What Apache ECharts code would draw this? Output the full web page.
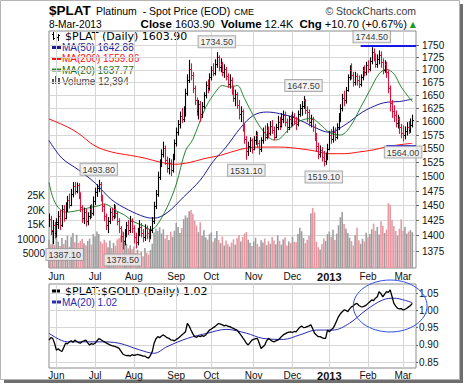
<!DOCTYPE html>
<html><head><meta charset="utf-8">
<script src="https://cdn.jsdelivr.net/npm/echarts@6/dist/echarts.min.js"></script>
<style>html,body{margin:0;padding:0;background:#fff}#c{width:464px;height:387px}</style>
</head><body><div id="c"></div>
<script>
// ---------------- DATA ----------------
const holidays = ['2012-05-28','2012-07-04','2012-09-03','2012-11-22','2012-12-25','2013-01-01','2013-01-21','2013-02-18'];
const monthLabels = ['Jun','Jul','Aug','Sep','Oct','Nov','Dec','2013','Feb','Mar'];
const priceTicks = [1375,1400,1425,1450,1475,1500,1525,1550,1575,1600,1625,1650,1675,1700,1725,1750];
const volTicks = [5000,10000,15000,20000,25000];
const volTickLabels = ['5000','10000','15K','20K','25K'];
const ratioTicks = [0.85,0.90,0.95,1.00,1.05];

const opens = [
1422,1428,1408,1418,1405,1420,1432,1418,1445,1430,
1446,1460,1452,1470,1484,1476,1486,1470,1448,1430,
1440,1424,1432,1445,1437,1458,1474,1480,1488,1465,
1450,1432,1418,1425,1440,1432,1445,1438,1425,1412,
1400,1392,1405,1418,1410,1425,1412,1398,1390,1406,
1415,1405,1398,1412,1404,1400,1410,1425,1450,1470,
1500,1524,1540,1552,1530,1516,1525,1512,1535,1560,
1580,1595,1610,1604,1615,1655,1680,1702,1690,1664,
1640,1620,1634,1615,1630,1650,1670,1664,1685,1700,
1694,1712,1725,1705,1712,1695,1702,1688,1672,1680,
1660,1645,1652,1632,1615,1620,1590,1568,1545,1555,
1565,1550,1565,1575,1560,1550,1565,1580,1572,1585,
1578,1592,1585,1572,1590,1600,1592,1605,1612,1600,
1590,1605,1598,1610,1602,1595,1615,1625,1630,1640,
1622,1618,1600,1605,1590,1575,1555,1540,1548,1535,
1528,1536,1550,1575,1568,1580,1572,1590,1608,1625,
1645,1640,1660,1685,1700,1690,1675,1688,1680,1672,
1685,1700,1695,1710,1702,1718,1735,1728,1712,1722,
1730,1715,1700,1712,1695,1665,1635,1620,1612,1598,
1605,1590,1578,1575,1582,1590,1584,1593.2];
const highs = [
1436,1432,1425,1422,1428,1440,1442,1450,1450,1455,
1466,1470,1478,1490,1490,1489,1488,1472,1450,1446,
1444,1438,1450,1452,1465,1480,1486,1493.8,1490,1468,
1452,1436,1430,1445,1446,1452,1450,1440,1428,1415,
1405,1410,1422,1425,1432,1428,1416,1404,1412,1425,
1420,1410,1418,1416,1410,1415,1430,1456,1476,1508,
1530,1548,1562,1555,1535,1532,1530,1540,1566,1588,
1602,1618,1625,1628,1662,1690,1719,1712,1695,1668,
1645,1640,1638,1636,1655,1676,1680,1692,1706,1712,
1720,1734.5,1728,1722,1715,1710,1705,1692,1690,1684,
1668,1660,1655,1640,1628,1622,1595,1572,1562,1570,
1568,1572,1582,1580,1565,1570,1588,1592,1596,1590,
1600,1602,1590,1595,1610,1608,1615,1620,1618,1605,
1610,1612,1618,1615,1608,1620,1632,1638,1647.5,1642,
1628,1622,1612,1608,1595,1578,1560,1555,1552,1545,
1542,1558,1582,1585,1590,1588,1596,1615,1632,1652,
1658,1665,1690,1708,1712,1695,1695,1692,1688,1690,
1705,1708,1715,1718,1724,1744.5,1742,1732,1730,1738,
1736,1722,1718,1715,1698,1668,1640,1630,1620,1612,
1608,1595,1592,1590,1598,1600,1605,1612];
const lows = [
1415,1402,1387.1,1396,1398,1412,1410,1415,1424,1428,
1440,1446,1450,1465,1470,1472,1462,1440,1422,1420,
1416,1418,1428,1430,1434,1452,1466,1474,1458,1440,
1425,1410,1405,1420,1425,1428,1430,1418,1405,1390,
1378.5,1385,1398,1402,1405,1405,1388,1380,1385,1400,
1398,1390,1392,1395,1390,1395,1405,1420,1445,1466,
1495,1518,1535,1522,1508,1505,1502,1508,1530,1555,
1575,1588,1598,1600,1610,1650,1675,1680,1655,1632,
1612,1605,1600,1608,1625,1645,1655,1660,1680,1688,
1690,1705,1698,1696,1688,1685,1680,1665,1664,1652,
1638,1630,1625,1605,1600,1582,1560,1531.1,1538,1545,
1542,1548,1558,1552,1540,1545,1560,1565,1568,1570,
1575,1578,1566,1570,1585,1585,1590,1598,1592,1580,
1585,1590,1592,1595,1585,1592,1610,1612,1625,1615,
1600,1592,1590,1582,1565,1545,1532,1535,1528,1519.1,
1522,1530,1548,1560,1562,1565,1568,1585,1600,1620,
1630,1635,1658,1680,1682,1668,1670,1670,1665,1668,
1680,1688,1690,1695,1698,1712,1718,1705,1705,1712,
1705,1692,1695,1685,1655,1620,1608,1600,1590,1588,
1578,1570,1564,1568,1575,1578,1580,1590];
const closes = [
1428,1410,1418,1405,1422,1432,1418,1445,1430,1446,
1460,1452,1470,1484,1476,1486,1470,1448,1430,1440,
1424,1432,1445,1437,1458,1474,1480,1488,1465,1450,
1432,1418,1425,1440,1432,1445,1438,1425,1412,1400,
1392,1405,1418,1410,1425,1412,1398,1390,1406,1415,
1405,1398,1412,1404,1400,1410,1425,1450,1470,1500,
1524,1540,1552,1530,1516,1525,1512,1535,1560,1580,
1595,1610,1604,1615,1655,1680,1702,1690,1664,1640,
1620,1634,1615,1630,1650,1670,1664,1685,1700,1694,
1712,1725,1705,1712,1695,1702,1688,1672,1680,1660,
1645,1652,1632,1615,1620,1590,1568,1545,1555,1565,
1550,1565,1575,1560,1550,1565,1580,1572,1585,1578,
1592,1585,1572,1590,1600,1592,1605,1612,1600,1590,
1605,1598,1610,1602,1595,1615,1625,1630,1640,1622,
1618,1600,1605,1590,1575,1555,1540,1548,1535,1528,
1536,1550,1575,1568,1580,1572,1590,1608,1625,1645,
1640,1660,1685,1700,1690,1675,1688,1680,1672,1685,
1700,1695,1710,1702,1718,1735,1728,1712,1722,1730,
1715,1700,1712,1695,1665,1635,1620,1612,1598,1605,
1590,1578,1575,1582,1590,1584,1593.2,1603.9];
const volumes = [
9800,8200,12500,7900,13200,9100,7600,10400,8300,9700,11200,7400,10800,12100,8900,11500,8700,9400,10100,8600,
7900,9300,10200,8100,11700,10900,12600,11800,9200,8500,9800,8800,7200,9500,6900,8700,7700,9900,10300,11100,
12900,9600,8400,6800,7900,6500,7400,5200,6300,4800,5600,4100,6900,5300,4600,6200,8400,12300,13600,12800,
14100,11900,13400,10200,11500,9700,12600,10800,12900,15600,14200,12100,13800,16900,18200,17400,19600,20100,18800,16300,
14700,12400,15800,11200,13100,10600,9800,11700,12300,9100,10400,12800,9700,8600,10900,7800,9500,8200,7400,8800,
9900,8100,10300,11400,9200,10700,11900,12400,9800,8700,7600,9100,10500,8300,7400,9600,8800,10200,7900,9300,
8400,10700,9500,8200,11300,9400,8100,9900,10600,7800,9200,8600,10800,9100,8900,11800,13900,12700,10400,8600,
9800,11200,18900,20800,19300,9100,7200,6400,8300,10200,9400,11700,12600,10800,13200,9700,11900,14800,17600,19400,
15200,13700,12100,10500,9300,7800,11400,13900,9600,8400,10100,9200,12200,10600,11800,13400,15300,12900,14200,11600,
16200,14600,12100,13300,22400,21900,16700,14500,12800,11200,13600,16800,12900,14200,11900,12600,13100,12394];

const ma20 = [[0,1490],[2,1465],[5,1447],[9,1439],[16,1442],[21,1446],[27,1450],[30,1453],[36,1442],[41,1434],[46,1423],[52,1415],[55,1410],[58,1415],[64,1447],[69,1487],[74,1546],[78,1567],[85,1627],[91,1660],[94,1669],[98,1666],[102,1669],[106,1644],[111,1610],[116,1583],[122,1566],[125,1568],[131,1589],[136,1601],[142,1606],[147,1595],[152,1580],[158,1575],[163,1589],[169,1627],[174,1660],[179,1692],[183,1701],[187,1692],[191,1666],[197,1637.77]];
const ma50 = [[0,1565],[7,1533],[16,1512],[25,1489],[34,1460],[43,1443],[52,1431],[57,1429],[64,1438],[73,1465],[82,1494],[89,1527],[96,1553],[104,1589],[111,1612],[118,1618],[125,1615],[134,1606],[143,1591],[152,1580],[161,1595],[170,1618],[179,1633],[184,1637],[190,1638],[197,1642.88]];
const ma200 = [[0,1605],[10,1590],[16,1578],[25,1555],[34,1544],[44,1538],[52,1533],[60,1526],[68,1522],[76,1525],[84,1532],[93,1538],[104,1549],[114,1553],[125,1553],[136,1550],[144,1546],[152,1541],[160,1541],[168,1544],[176,1548],[184,1554],[192,1558],[197,1559.86]];

const ratio = [
.914,.921,.919,.905,.885,.889,.884,.881,.893,.905,.903,.909,.912,.908,.914,.910,.907,.905,.910,.912,
.914,.906,.900,.904,.902,.905,.912,.918,.916,.912,.909,.906,.903,.900,.898,.897,.895,.893,.890,.882,
.874,.871,.869,.870,.868,.872,.870,.871,.873,.871,.870,.868,.868,.864,.862,.870,.881,.905,.918,.924,
.921,.926,.929,.925,.921,.919,.915,.914,.912,.916,.919,.924,.929,.933,.938,.962,.955,.943,.932,.924,
.922,.926,.924,.927,.925,.929,.936,.943,.946,.950,.953,.958,.962,.960,.958,.955,.957,.954,.953,.950,
.948,.945,.943,.936,.929,.921,.914,.905,.900,.907,.914,.916,.918,.919,.905,.890,.895,.900,.912,.919,
.915,.911,.909,.912,.914,.918,.924,.929,.932,.935,.937,.938,.936,.939,.938,.945,.951,.955,.950,.951,
.953,.955,.958,.947,.934,.929,.924,.924,.921,.919,.919,.943,.938,.944,.948,.958,.970,.982,.990,.996,
1.001,1.000,.996,1.004,1.010,1.013,1.018,1.020,1.014,1.011,1.010,1.012,1.015,1.020,1.025,1.030,1.028,1.035,1.039,1.054,
1.048,1.039,1.047,1.054,1.052,1.059,1.040,1.020,1.012,1.006,1.004,1.005,1.001,1.003,1.006,1.010,1.014,1.020];
const ratioMa20 = [[0,.934],[10,.909],[28,.909],[38,.905],[49,.886],[57,.876],[64,.895],[75,.919],[86,.934],[96,.945],[107,.934],[116,.919],[127,.916],[136,.929],[145,.943],[154,.943],[163,.963],[172,1.001],[181,1.030],[187,1.035],[197,1.022]];

const highMarks = [[27,1493.8],[91,1734.5],[138,1647.5],[175,1744.5]];
const lowMarks = [[2,1387.1],[40,1378.5],[107,1531.1],[149,1519.1],[192,1564]];
const trendLines = [[169,199,1748],[183,199,1555]];

// ---------------- BUILD ----------------
const dates = [];
(function(){
  let t = Date.UTC(2012,4,25); const end = Date.UTC(2013,2,8);
  while (t <= end) { const d = new Date(t); const wd = d.getUTCDay(); const s = d.toISOString().slice(0,10);
    if (wd !== 0 && wd !== 6 && holidays.indexOf(s) < 0) dates.push(s); t += 86400000; }
})();
const categories = dates.concat(['pad-1','pad-2']);
const monthStart = {};
(function(){ let k = 0; for (let i = 1; i < dates.length; i++) if (dates[i].slice(5,7) !== dates[i-1].slice(5,7)) monthStart[i] = monthLabels[k++]; })();

const L = Math.log10;
const FONT = 'Liberation Sans, Arial, sans-serif';
const DJ = 'DejaVu Sans, Verdana, sans-serif';
const UP = '#000000', DOWN = '#dc143c';
const n = closes.length;
const isUp = closes.map((c,i) => i === 0 ? c >= opens[0] : c >= closes[i-1]);
const last = closes[n-1], prev = closes[n-2];
const chg = last - prev, pct = chg/prev*100;
const grid0 = {left:49, right:48, top:31, height:237};
const grid1 = {left:49, right:48, top:284, height:84};
const gridCol = '#d6d6d6';
const boxLabel = {show:true, distance:5, formatter:p=>p.value[2].toFixed(2), fontSize:9, fontFamily:FONT, color:'#000',
  backgroundColor:'#f3f3f3', borderColor:'#9a9a9a', borderWidth:1, padding:[1,2,0,2], lineHeight:10};

function xAxisFor(gi, margin){
  return {type:'category', gridIndex:gi, data:categories, boundaryGap:false,
    axisLine:{show:false}, axisTick:{show:false},
    axisLabel:{interval:(i)=> monthStart[i] !== undefined,
      formatter:(v,i)=> monthStart[i] === '2013' ? '{b|2013}' : (monthStart[i] || ''),
      margin:margin, fontSize:10, fontFamily:FONT, color:'#111',
      rich:{b:{fontWeight:'bold', fontSize:11, fontFamily:FONT, color:'#111'}}},
    splitLine:{show:true, interval:(i)=> monthStart[i] !== undefined, lineStyle:{color:gridCol, width:1}}};
}

const option = {
  animation:false,
  backgroundColor:'#ffffff',
  grid:[
    Object.assign({show:true, borderColor:'#8a8a8a', borderWidth:1, backgroundColor:'#fff', outerBoundsMode:'none', containLabel:false}, grid0),
    Object.assign({show:true, borderColor:'#8a8a8a', borderWidth:1, backgroundColor:'#fff', outerBoundsMode:'none', containLabel:false}, grid1)
  ],
  xAxis:[xAxisFor(0,3), xAxisFor(1,2)],
  yAxis:[
    {type:'value', gridIndex:0, position:'right', min:L(1348), max:L(1779), scale:true,
      axisLine:{show:false},
      axisTick:{show:true, inside:false, length:3, customValues:priceTicks.map(L), lineStyle:{color:'#666'}},
      axisLabel:{customValues:priceTicks.map(L), formatter:v=>String(Math.round(Math.pow(10,v))), margin:6, fontSize:10, fontFamily:FONT, color:'#111'},
      splitLine:{show:true, lineStyle:{color:gridCol, width:1}}},
    {type:'value', gridIndex:0, position:'left', min:0, max:82000,
      axisLine:{show:false}, axisTick:{show:false},
      axisLabel:{customValues:volTicks, formatter:v=>volTickLabels[volTicks.indexOf(v)] || '', margin:4, fontSize:10, fontFamily:FONT, color:'#111'},
      splitLine:{show:false}},
    {type:'value', gridIndex:1, position:'right', min:0.8335, max:1.076,
      axisLine:{show:false},
      axisTick:{show:true, length:2, customValues:ratioTicks, lineStyle:{color:'#666'}},
      axisLabel:{customValues:ratioTicks, formatter:v=>v.toFixed(2), margin:3, fontSize:10, fontFamily:FONT, color:'#111'},
      splitLine:{show:true, lineStyle:{color:gridCol, width:1}}}
  ],
  series:[
    {type:'bar', name:'Volume', xAxisIndex:0, yAxisIndex:1, barWidth:1.6, silent:true, z:1,
      data:volumes.map((v,i)=>({value:v, itemStyle:{color:isUp[i] ? '#9e9e9e' : '#e699a3'}}))},
    {type:'line', name:'MA200', xAxisIndex:0, yAxisIndex:0, data:ma200.map(p=>[p[0], L(p[1])]), smooth:0.35, showSymbol:false, silent:true, z:2,
      lineStyle:{color:'#ff1010', width:1}},
    {type:'line', name:'MA50', xAxisIndex:0, yAxisIndex:0, data:ma50.map(p=>[p[0], L(p[1])]), smooth:0.35, showSymbol:false, silent:true, z:2,
      lineStyle:{color:'#1c1c9c', width:1}},
    {type:'line', name:'MA20', xAxisIndex:0, yAxisIndex:0, data:ma20.map(p=>[p[0], L(p[1])]), smooth:0.35, showSymbol:false, silent:true, z:2,
      lineStyle:{color:'#24882c', width:1},
      markLine:{symbol:'none', silent:true, label:{show:false}, lineStyle:{color:'#1515e6', width:2, type:'solid'},
        data:trendLines.map(t=>[{coord:[t[0], L(t[2])]}, {coord:[t[1], L(t[2])]}])}},
    {type:'custom', name:'PLAT', xAxisIndex:0, yAxisIndex:0, z:3, silent:true, clip:true,
      dimensions:['i','o','h','l','c','up'], encode:{x:0, y:[1,2,3,4]},
      data:closes.map((c,i)=>[i, L(opens[i]), L(highs[i]), L(lows[i]), L(c), isUp[i] ? 1 : 0]),
      renderItem:(params, api)=>{
        const i = api.value(0);
        const pO = api.coord([i, api.value(1)]);
        const pH = api.coord([i, api.value(2)]);
        const pL = api.coord([i, api.value(3)]);
        const pC = api.coord([i, api.value(4)]);
        const col = api.value(5) ? UP : DOWN;
        const x = Math.round(pO[0]) + 0.5;
        const yo = Math.round(pO[1]) + 0.5, yc = Math.round(pC[1]) + 0.5;
        return {type:'group', children:[
          {type:'line', shape:{x1:x, y1:pH[1]-0.5, x2:x, y2:pL[1]+0.5}, style:{stroke:col, lineWidth:1.1}},
          {type:'line', shape:{x1:x-1.5, y1:yo, x2:x, y2:yo}, style:{stroke:col, lineWidth:1}},
          {type:'line', shape:{x1:x, y1:yc, x2:x+1.5, y2:yc}, style:{stroke:col, lineWidth:1}}
        ]};
      }},
    {type:'scatter', name:'highs', xAxisIndex:0, yAxisIndex:0, symbolSize:1, itemStyle:{color:'rgba(0,0,0,0)'}, silent:true, z:6,
      data:highMarks.map(m=>[m[0], L(m[1]), m[1]]),
      label:Object.assign({position:'top'}, boxLabel)},
    {type:'scatter', name:'lows', xAxisIndex:0, yAxisIndex:0, symbolSize:1, itemStyle:{color:'rgba(0,0,0,0)'}, silent:true, z:6,
      // the first low sits on the volume-axis labels; nudge its box right so "5000" stays readable
      data:lowMarks.map((m,k)=> k === 0 ? {value:[m[0], L(m[1]), m[1]], label:{offset:[12,0]}} : [m[0], L(m[1]), m[1]]),
      label:Object.assign({position:'bottom'}, boxLabel)},
    {type:'line', name:'ratioMA', xAxisIndex:1, yAxisIndex:2, data:ratioMa20, smooth:0.35, showSymbol:false, silent:true, z:2,
      lineStyle:{color:'#2a2ab4', width:1}},
    {type:'line', name:'ratio', xAxisIndex:1, yAxisIndex:2, data:ratio.map((v,i)=>[i,v]), showSymbol:false, silent:true, z:3,
      lineStyle:{color:'#000', width:1.3}}
  ],
  graphic:[
    {type:'rect', shape:{x:0.5, y:0.5, width:459, height:379}, style:{fill:'none', stroke:'#b4b4b4', lineWidth:1}, silent:true},
    {type:'rect', shape:{x:460, y:4, width:3, height:379}, style:{fill:'#6e6e6e'}, silent:true},
    {type:'rect', shape:{x:4, y:380, width:459, height:3}, style:{fill:'#6e6e6e'}, silent:true},
    {type:'text', x:49, y:10, style:{text:'$PLAT', fontSize:13.5, fontWeight:'bold', fontFamily:FONT, fill:'#000', verticalAlign:'middle'}},
    {type:'text', x:96, y:11, style:{text:'Platinum  - Spot Price (EOD)', fontSize:10.5, fontFamily:FONT, fill:'#000', verticalAlign:'middle'}},
    {type:'text', x:234, y:11.5, style:{text:'CME', fontSize:9, fontFamily:FONT, fill:'#000', verticalAlign:'middle'}},
    {type:'text', x:416, y:11, style:{text:'\u00A9 StockCharts.com', fontSize:10.5, fontFamily:FONT, fill:'#3a3a3a', align:'right', verticalAlign:'middle'}},
    {type:'text', x:49, y:24, style:{text:'8-Mar-2013', fontSize:10.2, fontFamily:FONT, fill:'#000', verticalAlign:'middle'}},
    {type:'text', x:416, y:24, style:{
      text:'{b|Close} ' + last.toFixed(2) + '  {b|Volume} ' + (volumes[n-1]/1000).toFixed(1) + 'K  {b|Chg} +' + chg.toFixed(2) + ' (+' + pct.toFixed(2) + '%) {g|\u25B2}',
      fontSize:11, fontFamily:FONT, fill:'#000', align:'right', verticalAlign:'middle',
      rich:{b:{fontSize:11.5, fontWeight:'bold', fontFamily:FONT, fill:'#000'}, g:{fontSize:8, fontFamily:DJ, fill:'#1f9a2a'}}}},
    // main legend
    {type:'group', children:[
      {type:'line', shape:{x1:53.5, y1:32, x2:53.5, y2:40}, style:{stroke:'#000', lineWidth:1}},
      {type:'line', shape:{x1:52, y1:34.5, x2:53.5, y2:34.5}, style:{stroke:'#000', lineWidth:1}},
      {type:'line', shape:{x1:53.5, y1:38.5, x2:55, y2:38.5}, style:{stroke:'#000', lineWidth:1}},
      {type:'line', shape:{x1:58.5, y1:34, x2:58.5, y2:41}, style:{stroke:'#000', lineWidth:1}},
      {type:'line', shape:{x1:57, y1:37.5, x2:58.5, y2:37.5}, style:{stroke:'#000', lineWidth:1}},
      {type:'line', shape:{x1:58.5, y1:35.5, x2:60, y2:35.5}, style:{stroke:'#000', lineWidth:1}}
    ]},
    {type:'text', x:65, y:36.5, style:{text:'$PLAT (Daily) ' + last.toFixed(2), fontSize:11, fontFamily:DJ, fill:'#000', verticalAlign:'middle'}},
    {type:'rect', shape:{x:52, y:46, width:9, height:3}, style:{fill:'#1c1c9c'}},
    {type:'text', x:62, y:47.5, style:{text:'MA(50) ' + ma50[ma50.length-1][1].toFixed(2), fontSize:10, fontFamily:FONT, fill:'#1c1c9c', verticalAlign:'middle'}},
    {type:'rect', shape:{x:52, y:57, width:9, height:3}, style:{fill:'#ff1010'}},
    {type:'text', x:62, y:58.5, style:{text:'MA(200) ' + ma200[ma200.length-1][1].toFixed(2), fontSize:10, fontFamily:FONT, fill:'#ff1010', verticalAlign:'middle'}},
    {type:'rect', shape:{x:52, y:68.5, width:9, height:3}, style:{fill:'#24882c'}},
    {type:'text', x:62, y:70, style:{text:'MA(20) ' + ma20[ma20.length-1][1].toFixed(2), fontSize:10, fontFamily:FONT, fill:'#1f6e24', verticalAlign:'middle'}},
    {type:'rect', shape:{x:52, y:79, width:2, height:5}, style:{fill:'#555'}},
    {type:'rect', shape:{x:55, y:76, width:2, height:8}, style:{fill:'#555'}},
    {type:'rect', shape:{x:58, y:78, width:2, height:6}, style:{fill:'#555'}},
    {type:'text', x:62, y:81, style:{text:'Volume ' + volumes[n-1].toLocaleString('en-US'), fontSize:10, fontFamily:FONT, fill:'#444', verticalAlign:'middle'}},
    // lower legend
    {type:'rect', shape:{x:52, y:289.5, width:8, height:3}, style:{fill:'#000'}},
    {type:'text', x:65, y:291, style:{text:'$PLAT:$GOLD (Daily) ' + ratio[n-1].toFixed(2), fontSize:11, fontFamily:DJ, fill:'#000', verticalAlign:'middle'}},
    {type:'rect', shape:{x:52, y:300.5, width:9, height:3}, style:{fill:'#2a2ab4'}},
    {type:'text', x:62, y:302, style:{text:'MA(20) ' + ratioMa20[ratioMa20.length-1][1].toFixed(2), fontSize:10, fontFamily:FONT, fill:'#2a2ab4', verticalAlign:'middle'}}
  ]
};

const chart = echarts.init(document.getElementById('c'), null, {renderer:'svg', width:464, height:387});
chart.setOption(option);
// annotation ellipse placed through the lower panel's scales
const cen = chart.convertToPixel({gridIndex:1}, [184.7, 1.0125]);
const edge = chart.convertToPixel({gridIndex:1}, [184.7 + 20.3, 1.0125 - 0.075]);
chart.setOption({graphic:[{id:'ell', type:'ellipse', z:50, silent:true,
  shape:{cx:cen[0], cy:cen[1], rx:Math.abs(edge[0]-cen[0]), ry:Math.abs(edge[1]-cen[1])},
  style:{fill:'none', stroke:'#2f4fe8', lineWidth:1}}]});
</script></body></html>
